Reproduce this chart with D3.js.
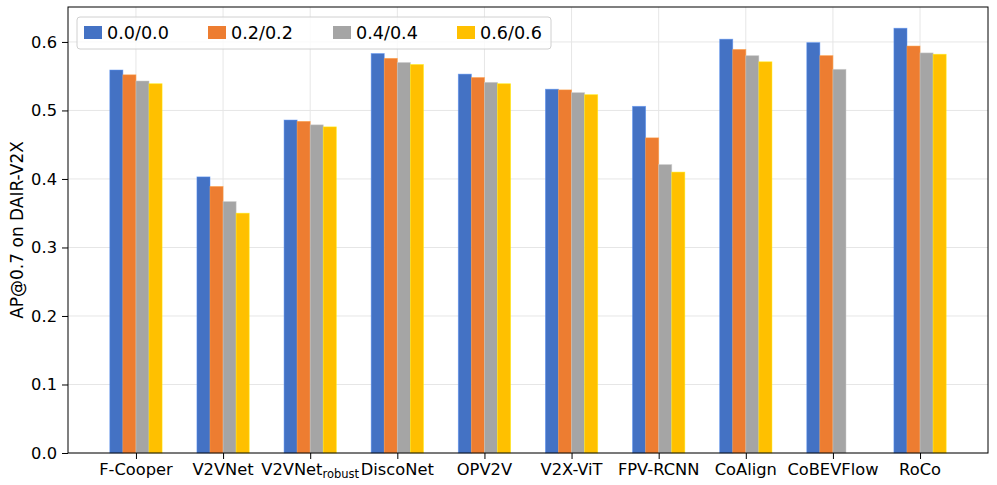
<!DOCTYPE html>
<html lang="en">
<head>
<meta charset="UTF-8">
<title>AP@0.7 on DAIR-V2X</title>
<style>
  html, body { margin: 0; padding: 0; background: #fff; }
  svg { display: block; font-family: "DejaVu Sans", sans-serif; }
</style>
</head>
<body>
<div id="chart"></div>
<script src="https://d3js.org/d3.v7.min.js"></script>
<script>
// methods on the x axis
const methods = ['F-Cooper', 'V2VNet', 'V2VNet_robust', 'DiscoNet', 'OPV2V',
                 'V2X-ViT', 'FPV-RCNN', 'CoAlign', 'CoBEVFlow', 'RoCo'];
// noise levels (legend)
const noiseLevels = ['0.0/0.0', '0.2/0.2', '0.4/0.4', '0.6/0.6'];
const colors = ['#4472C4', '#ED7D31', '#A5A5A5', '#FFC000'];

// AP values per noise level (null = not reported)
const ap00 = [0.559, 0.403, 0.486, 0.583, 0.553, 0.531, 0.506, 0.604, 0.599, 0.620];
const ap02 = [0.552, 0.389, 0.484, 0.576, 0.548, 0.530, 0.460, 0.589, 0.580, 0.594];
const ap04 = [0.543, 0.367, 0.479, 0.570, 0.541, 0.526, 0.421, 0.580, 0.560, 0.584];
const ap06 = [0.539, 0.350, 0.476, 0.567, 0.539, 0.523, 0.410, 0.571, null, 0.582];
const series = [ap00, ap02, ap04, ap06];

const yTicks = [0.0, 0.1, 0.2, 0.3, 0.4, 0.5, 0.6];

const W = 997, H = 485;
const margin = { left: 68, right: 9, top: 7, bottom: 32 };
const barW = 0.15;
const tickFont = 16.3;

const svg = d3.select('#chart').append('svg')
  .attr('width', W).attr('height', H);

const x = d3.scaleLinear()
  .domain([-0.78, methods.length - 1 + 0.78])
  .range([margin.left, W - margin.right]);
const y = d3.scaleLinear()
  .domain([0, 0.651])
  .range([H - margin.bottom, margin.top]);

// grid
const grid = svg.append('g');
grid.selectAll('line.gy').data(yTicks).enter().append('line')
  .attr('x1', x.range()[0]).attr('x2', x.range()[1])
  .attr('y1', d => y(d)).attr('y2', d => y(d))
  .attr('stroke', '#e6e6e6').attr('stroke-width', 1);
grid.selectAll('line.gx').data(methods).enter().append('line')
  .attr('x1', (d, i) => x(i)).attr('x2', (d, i) => x(i))
  .attr('y1', y.range()[0]).attr('y2', y.range()[1])
  .attr('stroke', '#e6e6e6').attr('stroke-width', 1);

// bars
series.forEach((vals, s) => {
  svg.append('g').selectAll('rect')
    .data(vals.map((v, i) => ({ v, i })).filter(d => d.v !== null))
    .enter().append('rect')
    .attr('x', d => x(d.i + (s - 2) * barW))
    .attr('width', x(barW) - x(0))
    .attr('y', d => y(d.v))
    .attr('height', d => y(0) - y(d.v))
    .attr('fill', colors[s])
    .attr('stroke', d3.color(colors[s]).brighter(0.6))
    .attr('stroke-opacity', 0.6)
    .attr('stroke-width', 0.8);
});

// axes
const yAxis = d3.axisLeft(y).tickValues(yTicks).tickFormat(d3.format('.1f'))
  .tickSize(6).tickPadding(5);
const gy = svg.append('g').attr('transform', `translate(${margin.left},0)`).call(yAxis);
gy.select('.domain').remove();
gy.selectAll('text').attr('font-size', tickFont).attr('fill', '#000')
  .attr('font-family', '"DejaVu Sans", sans-serif');
gy.selectAll('line').attr('stroke', '#000');

const xAxis = d3.axisBottom(x).tickValues(d3.range(methods.length))
  .tickFormat('').tickSize(6);
const gx = svg.append('g').attr('transform', `translate(0,${H - margin.bottom})`).call(xAxis);
gx.select('.domain').remove();
gx.selectAll('line').attr('stroke', '#000');

// x tick labels (with subscript for robust)
const xl = svg.append('g').selectAll('text').data(methods).enter().append('text')
  .attr('x', (d, i) => x(i)).attr('y', H - margin.bottom + 22)
  .attr('text-anchor', 'middle').attr('font-size', tickFont).attr('fill', '#000');
xl.each(function (d) {
  const t = d3.select(this);
  if (d.includes('_')) {
    const [base, sub] = d.split('_');
    t.append('tspan').text(base);
    t.append('tspan').text(sub).attr('font-size', 11.5).attr('dy', 3);
  } else {
    t.text(d);
  }
});

// frame
svg.append('rect')
  .attr('x', x.range()[0]).attr('y', y.range()[1])
  .attr('width', x.range()[1] - x.range()[0])
  .attr('height', y.range()[0] - y.range()[1])
  .attr('fill', 'none').attr('stroke', '#000').attr('stroke-width', 1);

// y label
svg.append('text')
  .attr('transform', `translate(23,${(y.range()[0] + y.range()[1]) / 2}) rotate(-90)`)
  .attr('text-anchor', 'middle').attr('font-size', 17).attr('fill', '#000')
  .text('AP@0.7 on DAIR-V2X');

// legend
const lg = svg.append('g').attr('transform', 'translate(77,17)');
lg.append('rect').attr('width', 474).attr('height', 32).attr('rx', 3)
  .attr('fill', '#fff').attr('fill-opacity', 0.8)
  .attr('stroke', '#d0d0d0').attr('stroke-width', 1);
const itemX = [7, 131, 256, 380];
noiseLevels.forEach((n, i) => {
  const g = lg.append('g').attr('transform', `translate(${itemX[i]},9)`);
  g.append('rect').attr('width', 18).attr('height', 13).attr('fill', colors[i]);
  g.append('text').attr('x', 23).attr('y', 13).attr('font-size', 17.6)
    .attr('fill', '#000').text(n);
});
</script>
</body>
</html>
